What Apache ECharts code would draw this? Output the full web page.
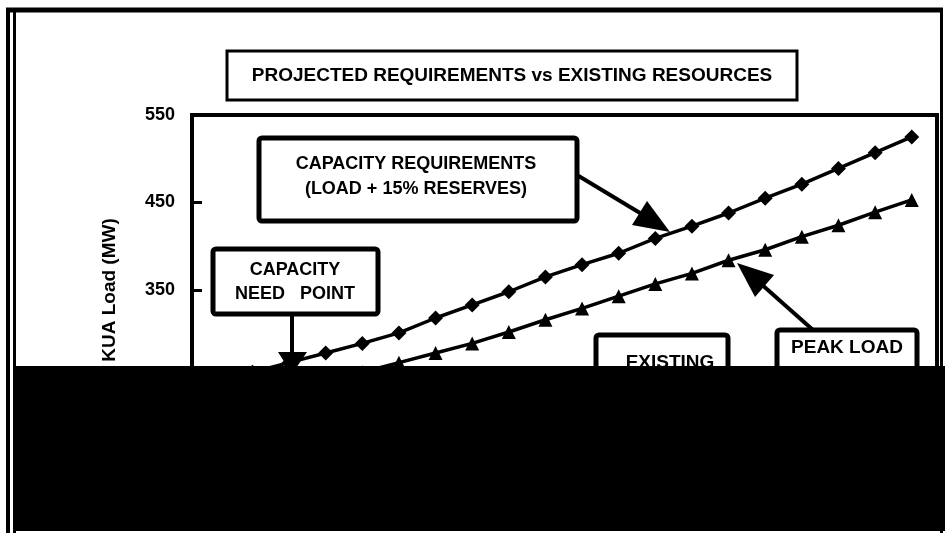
<!DOCTYPE html>
<html>
<head>
<meta charset="utf-8">
<script src="https://cdn.jsdelivr.net/npm/echarts@6/dist/echarts.min.js"></script>
<style>
html,body{margin:0;padding:0;background:#fff;}
#chart{width:945px;height:533px;}
</style>
</head>
<body>
<div id="chart"></div>
<script>
// Years (x axis hidden under the black block in the reference; estimated)
const years = [1993,1994,1995,1996,1997,1998,1999,2000,2001,2002,2003,2004,2005,2006,2007,2008,2009,2010,2011,2012];
// Capacity requirements (load + 15% reserves), MW
const capacity = [245,256,267,278,289,301,318,333,348,365,379,392,409,423,438,455,471,489,507,525];
// Peak load, MW
const peakLoad = [212,223,234,245,256,267,278,289,302,316,329,343,357,369,384,396,411,424,439,453];
// Y tick labels
const yTicks = [150,250,350,450,550];

const FONT = '"Liberation Sans", Arial, sans-serif';
const chart = echarts.init(document.getElementById('chart'), null, {renderer:'canvas'});

function pairs(vals){ return years.map((y,i)=>[y, vals[i]]); }

const option = {
  backgroundColor:'#fff',
  animation:false,
  grid:{left:192, right:8, top:115, bottom:68, show:true, borderColor:'#000', borderWidth:4, backgroundColor:'transparent'},
  xAxis:{
    type:'value', min:1992.35, max:2012.69,
    axisLine:{show:false}, axisTick:{show:false}, axisLabel:{show:false}, splitLine:{show:false}
  },
  yAxis:{
    type:'value', min:yTicks[0], max:yTicks[yTicks.length-1], interval:100,
    name:'KUA Load (MW)', nameLocation:'middle', nameGap:73,
    nameTextStyle:{fontFamily:FONT, fontSize:19, fontWeight:'bold', color:'#000'},
    axisLine:{show:true, lineStyle:{color:'#000', width:4}},
    axisTick:{show:true, inside:true, length:10, lineStyle:{color:'#000', width:3}},
    axisLabel:{fontFamily:FONT, fontSize:18, fontWeight:'bold', color:'#000', margin:17,
      formatter:(v)=> yTicks.includes(v) ? String(v) : ''},
    splitLine:{show:false}
  },
  series:[
    {name:'Capacity Requirements', type:'line', data:pairs(capacity),
     symbol:'diamond', symbolSize:15, lineStyle:{color:'#000', width:3.5},
     itemStyle:{color:'#000'}},
    {name:'Peak Load', type:'line', data:pairs(peakLoad),
     symbol:'triangle', symbolSize:14, lineStyle:{color:'#000', width:3.5},
     itemStyle:{color:'#000'}}
  ],
  graphic:[
    // outer frame
    {type:'line', z:90, shape:{x1:6,y1:10,x2:943,y2:10}, style:{stroke:'#000', lineWidth:5}},
    {type:'line', z:90, shape:{x1:8,y1:8,x2:8,y2:533}, style:{stroke:'#000', lineWidth:4}},
    {type:'line', z:90, shape:{x1:14.5,y1:10,x2:14.5,y2:533}, style:{stroke:'#000', lineWidth:3}},
    {type:'line', z:90, shape:{x1:941.5,y1:8,x2:941.5,y2:533}, style:{stroke:'#000', lineWidth:3}},
    // title box
    {type:'rect', z:60, shape:{x:227,y:51,width:570,height:49}, style:{fill:'#fff', stroke:'#000', lineWidth:3}},
    {type:'text', z:61, x:512, y:76, style:{text:'PROJECTED REQUIREMENTS vs EXISTING RESOURCES', fill:'#000',
      font:'bold 19px '+FONT, textAlign:'center', textVerticalAlign:'middle'}},
    // capacity requirements box
    {type:'rect', z:60, shape:{x:259,y:138,width:318,height:83, r:3}, style:{fill:'#fff', stroke:'#000', lineWidth:5}},
    {type:'text', z:61, x:416, y:164, style:{text:'CAPACITY REQUIREMENTS', fill:'#000',
      font:'bold 18px '+FONT, textAlign:'center', textVerticalAlign:'middle'}},
    {type:'text', z:61, x:416, y:189, style:{text:'(LOAD + 15% RESERVES)', fill:'#000',
      font:'bold 18px '+FONT, textAlign:'center', textVerticalAlign:'middle'}},
    {type:'line', z:60, shape:{x1:577,y1:175,x2:645,y2:216}, style:{stroke:'#000', lineWidth:4}},
    {type:'polygon', z:60, shape:{points:[[670,232],[632,225],[647,201]]}, style:{fill:'#000'}},
    // capacity need point box
    {type:'rect', z:60, shape:{x:213,y:249,width:165,height:65, r:3}, style:{fill:'#fff', stroke:'#000', lineWidth:5}},
    {type:'text', z:61, x:295, y:270, style:{text:'CAPACITY', fill:'#000',
      font:'bold 18px '+FONT, textAlign:'center', textVerticalAlign:'middle'}},
    {type:'text', z:61, x:295, y:294, style:{text:'NEED   POINT', fill:'#000',
      font:'bold 18px '+FONT, textAlign:'center', textVerticalAlign:'middle'}},
    {type:'line', z:60, shape:{x1:292,y1:314,x2:292,y2:356}, style:{stroke:'#000', lineWidth:4}},
    {type:'polygon', z:60, shape:{points:[[278,352],[307,352],[292,374]]}, style:{fill:'#000'}},
    // existing box
    {type:'rect', z:60, shape:{x:596,y:335,width:132,height:60, r:3}, style:{fill:'#fff', stroke:'#000', lineWidth:5}},
    {type:'text', z:61, x:670, y:363, style:{text:'EXISTING', fill:'#000',
      font:'bold 19px '+FONT, textAlign:'center', textVerticalAlign:'middle'}},
    // peak load box
    {type:'rect', z:60, shape:{x:777,y:330,width:140,height:60, r:3}, style:{fill:'#fff', stroke:'#000', lineWidth:5}},
    {type:'text', z:61, x:847, y:348, style:{text:'PEAK LOAD', fill:'#000',
      font:'bold 19px '+FONT, textAlign:'center', textVerticalAlign:'middle'}},
    {type:'line', z:60, shape:{x1:813,y1:330,x2:760,y2:283}, style:{stroke:'#000', lineWidth:4}},
    {type:'polygon', z:60, shape:{points:[[737,263],[755,297],[774,275]]}, style:{fill:'#000'}},
    // black block covering the lower part
    {type:'rect', z:100, shape:{x:13,y:366,width:932,height:165}, style:{fill:'#000'}}
  ]
};
chart.setOption(option);
</script>
</body>
</html>
